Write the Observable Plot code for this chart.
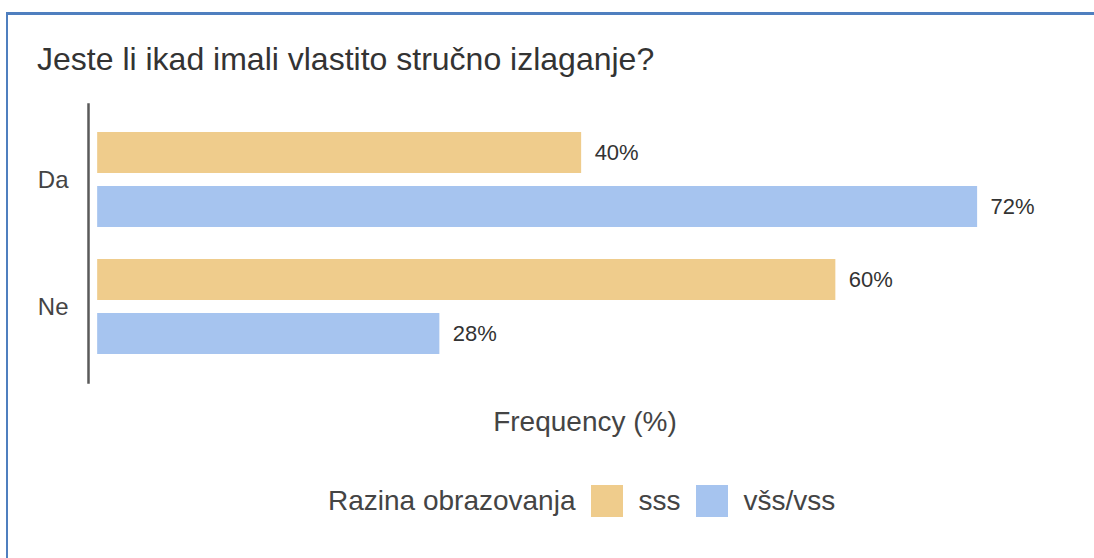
<!DOCTYPE html>
<html>
<head>
<meta charset="utf-8">
<script src="https://cdn.jsdelivr.net/npm/d3@7"></script>
<script src="https://cdn.jsdelivr.net/npm/@observablehq/plot@0.6"></script>
<style>
  html, body { margin: 0; padding: 0; background: #fff; overflow: hidden; }
  body { width: 1094px; height: 558px; position: relative; font-family: "Liberation Sans", Arial, sans-serif; }
  #frame { position: absolute; left: 6px; top: 12px; width: 2000px; height: 2000px;
           border-top: 3px solid #4f7fbf; border-left: 2px solid #4f7fbf; box-sizing: border-box; pointer-events: none; }
  #title { box-sizing: border-box; height: 90px; padding: 43px 0 0 37px; font-size: 32px; line-height: 32px; color: #333; white-space: nowrap; }
  #chart svg { display: block; }
  #legend { display: flex; align-items: center; padding: 35px 0 0 328px; font-size: 28px; line-height: 32px; color: #444; white-space: nowrap; }
  #legend .sw { width: 32px; height: 32px; display: inline-block; }
</style>
</head>
<body>
<div id="frame"></div>
<div id="title">Jeste li ikad imali vlastito stručno izlaganje?</div>
<div id="chart"></div>
<div id="legend"></div>
<script>
// Data
const groups = ["Da", "Ne"];
const series = ["sss", "všs/vss"];
const sssValues = [39.6, 60.4];
const vssValues = [72.0, 28.0];
const seriesColors = ["#efcc8c", "#a6c4ef"];
const xLabel = "Frequency (%)";
const legendTitle = "Razina obrazovanja";

const data = [];
groups.forEach((g, i) => {
  data.push({group: g, series: series[0], value: sssValues[i]});
  data.push({group: g, series: series[1], value: vssValues[i]});
});

const xMin = -0.75;

const plot = Plot.plot({
  width: 1094,
  height: 360,
  marginTop: 14,
  marginBottom: 68,
  marginLeft: 88,
  marginRight: 13,
  style: {fontFamily: "'Liberation Sans', Arial, sans-serif", background: "white", overflow: "visible"},
  x: {domain: [xMin, 80.5], axis: null},
  y: {domain: series, axis: null, paddingInner: 0.2407, paddingOuter: 0.2963, round: false},
  fy: {domain: groups, paddingInner: 0, paddingOuter: 0.0945, round: false, label: null, axis: null},
  color: {domain: series, range: seriesColors},
  marks: [
    Plot.barX(data, {fy: "group", y: "series", x: "value", fill: "series"}),
    Plot.text(data, {fy: "group", y: "series", x: "value", text: d => `${Math.round(d.value)}%`,
      textAnchor: "start", dx: 13, fontSize: 22, fill: "#333"}),
    Plot.axisFy({anchor: "left", tickSize: 0, tickPadding: 20, fontSize: 24, label: null, color: "#444"}),
    Plot.frame({anchor: "left", facet: "super", stroke: "#5a5a5a", strokeWidth: 2.5, insetTop: -12, insetBottom: -12}),
    Plot.text([xLabel], {facet: "super", frameAnchor: "bottom", dy: 61, fontSize: 28, fill: "#444"})
  ]
});
document.getElementById("chart").appendChild(plot);

// Legend built from the plot's color scale
const color = plot.scale("color");
const legend = document.getElementById("legend");
const lt = document.createElement("span");
lt.textContent = legendTitle;
lt.style.marginRight = "15px";
legend.appendChild(lt);
color.domain.forEach((s, i) => {
  const sw = document.createElement("span");
  sw.className = "sw";
  sw.style.background = color.range[i];
  legend.appendChild(sw);
  const t = document.createElement("span");
  t.textContent = s;
  t.style.marginLeft = "16px";
  t.style.marginRight = "15px";
  legend.appendChild(t);
});
</script>
</body>
</html>
